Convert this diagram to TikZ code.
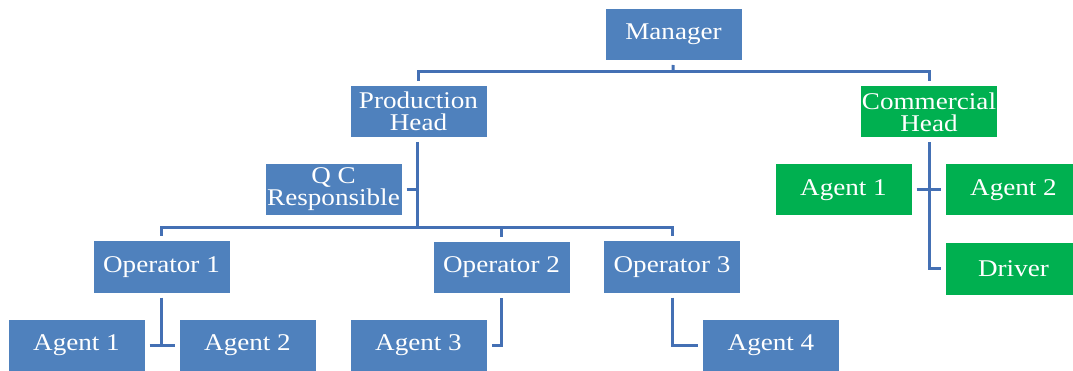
\documentclass[tikz,border=0pt]{standalone}
\usepackage{fontspec}
\setmainfont{Liberation Serif}[FakeStretch=1.13]
\usepackage{tikz}
\usetikzlibrary{positioning,calc}
\definecolor{boxblue}{HTML}{4F81BD}
\definecolor{boxgreen}{HTML}{00B050}
\definecolor{linkblue}{HTML}{4470B4}
\tikzset{
    every picture/.style={line join=miter},
    orgbox/.style={fill=boxblue,draw=none,text=white,
      minimum width=136pt,minimum height=51pt,inner sep=1pt,outer sep=5pt,
      font=\fontsize{24}{22}\selectfont,align=center},
    salesbox/.style={orgbox,fill=boxgreen},
    link/.style={draw=linkblue,line width=3pt}
}
\begin{document}
\begin{tikzpicture}[x=1pt,y=-1pt]
  \useasboundingbox (0,0) rectangle (1073,371);
  % top level
  \node[orgbox] (mgr) at (673.5,34.5) {Manager};
  \node[orgbox] (prod) at (418.5,111.5) {Production\\Head};
  \node[salesbox] (comm) at (929,112) {Commercial\\Head};
  \node[orgbox] (qc) at (333.5,189.5) {Q C\\Responsible};
  % operators
  \node[orgbox] (op1) at (161.5,267) {Operator 1};
  \node[orgbox] (op2) at (501.5,267.5) {Operator 2};
  \node[orgbox] (op3) at (672,267) {Operator 3};
  % agents
  \node[orgbox] (a1) at (76.5,345) {Agent 1};
  \node[orgbox] (a2) at (247.5,345) {Agent 2};
  \node[orgbox] (a3) at (418.5,345) {Agent 3};
  \node[orgbox] (a4) at (771,345.5) {Agent 4};
  \node[salesbox] (ga1) at (843.5,190) {Agent 1};
  \node[salesbox] (ga2) at (1013.5,190) {Agent 2};
  \node[salesbox] (drv) at (1013.5,269) {Driver};
  % bus lines
  \coordinate (bus1) at (673,72);
  \coordinate (bus2) at (417,228);
  \draw[link] (mgr) -- (bus1);
  \draw[link] (bus1) -| (prod);
  \draw[link] (bus1) -| (comm);
  \draw[link] (prod.south -| bus2) -- (bus2);
  \draw[link] (qc) -- (qc -| bus2);
  \draw[link] (bus2) -| (op1);
  \draw[link] (bus2) -| (op2);
  \draw[link] (bus2) -| (op3);
  % agent links
  \draw[link] (op1) -- (op1 |- a1);
  \draw[link] (a1) -- (a2);
  \draw[link] (op2) |- (a3);
  \draw[link] (op3) |- (a4);
  \draw[link] (comm) |- (drv);
  \draw[link] (ga1) -- (ga2);
\end{tikzpicture}
\end{document}
